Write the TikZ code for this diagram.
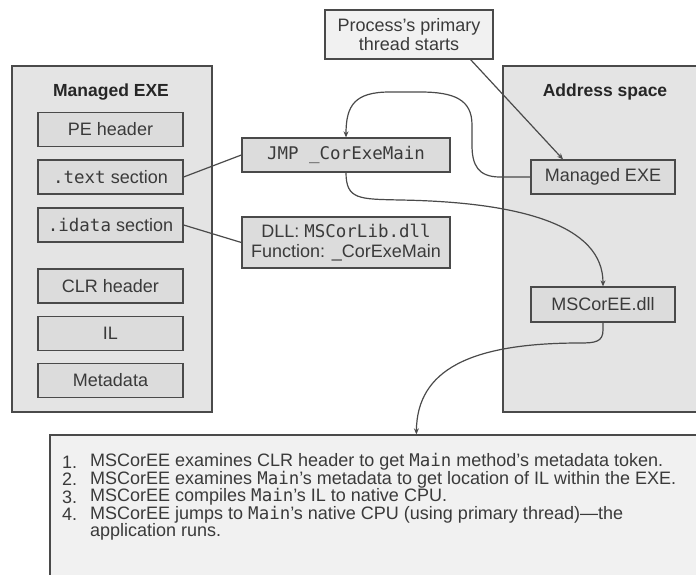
\documentclass[tikz,border=0pt]{standalone}
\usepackage{fontspec}
\setmainfont{Liberation Sans}
\newfontfamily\codefont{DejaVu Sans Mono}[Scale=0.97]
\usetikzlibrary{arrows.meta,shadows}
\definecolor{boxfill}{HTML}{E4E4E4}
\definecolor{innerfill}{HTML}{DCDCDC}
\definecolor{lightfill}{HTML}{F1F1F1}
\definecolor{ink}{HTML}{3A3A3A}
\definecolor{edge}{HTML}{4A4A4A}
\begin{document}
\begin{tikzpicture}[x=1pt,y=-1pt,
  every node/.style={font=\fontsize{18}{20}\selectfont, text=ink, inner sep=0pt},
  panel/.style={draw=edge, line width=1.3pt, fill=boxfill,
    drop shadow={shadow xshift=1.3pt, shadow yshift=-1.3pt, fill=gray!80, opacity=1}},
  part/.style={draw=edge, line width=1.3pt, fill=innerfill, minimum width=145pt, minimum height=34pt},
  lightbox/.style={draw=edge, line width=1.3pt, fill=lightfill,
    drop shadow={shadow xshift=1.2pt, shadow yshift=-1.2pt, fill=gray!80, opacity=1}},
  codebox/.style={draw=edge, line width=1.3pt, fill=innerfill, minimum width=208pt,
    drop shadow={shadow xshift=1.2pt, shadow yshift=-1.2pt, fill=gray!80, opacity=1}},
  title/.style={font=\fontsize{17.5}{20}\selectfont\bfseries, text=black!85},
  conn/.style={draw=edge, line width=1.2pt},
  arr/.style={conn, -{Stealth[length=6pt,width=5pt]}},
  stepline/.style={anchor=west}
]
\useasboundingbox (0,0) rectangle (696,575);
% left panel
\node[panel, minimum width=200pt, minimum height=346pt] (exe) at (112,239) {};
\node[title] (exetitle) at (111,92) {Managed EXE};
\node[part] (pe) at (110.5,129.5) {PE header};
\node[part] (text) at (110.5,177) {{\codefont .text} section};
\node[part] (idata) at (110.5,225) {{\codefont .idata} section};
\node[part] (clr) at (110.5,286) {CLR header};
\node[part] (il) at (110.5,333.5) {IL};
\node[part] (meta) at (110.5,380.5) {Metadata};
% right panel
\node[panel, minimum width=210pt, minimum height=346pt] (space) at (608,239) {};
\node[title] (spacetitle) at (605,92) {Address space};
\node[part, minimum width=144pt] (mexe) at (603,177) {Managed EXE};
\node[part, minimum width=144pt, minimum height=35pt] (msc) at (603,304.5) {MSCorEE.dll};
% middle
\node[lightbox, minimum width=168pt, minimum height=49pt, align=center, font=\fontsize{18}{18.5}\selectfont] (proc) at (409,34.5)
  {Process's primary\\thread starts};
\node[codebox, minimum height=34pt] (jmp) at (346,155) {{\codefont JMP \_CorExeMain}};
\node[codebox, minimum height=51pt, align=center] (dll) at (346,242.5)
  {DLL: {\codefont MSCorLib.dll}\\Function: \_CorExeMain};
% bottom
\node[draw=edge, line width=1.3pt, fill=lightfill, minimum width=660pt, minimum height=155pt] (steps) at (380,512.5) {};
\node[stepline] (n1) at (62,462) {1.};
\node[stepline] (t1) at (90,462) {MSCorEE examines CLR header to get {\codefont Main} method's metadata token.};
\node[stepline] (n2) at (62,479.5) {2.};
\node[stepline] (t2) at (90,479.5) {MSCorEE examines {\codefont Main}'s metadata to get location of IL within the EXE.};
\node[stepline] (n3) at (62,497) {3.};
\node[stepline] (t3) at (90,497) {MSCorEE compiles {\codefont Main}'s IL to native CPU.};
\node[stepline] (n4) at (62,514.5) {4.};
\node[stepline] (t4) at (90,514.5) {MSCorEE jumps to {\codefont Main}'s native CPU (using primary thread)---the};
\node[stepline] (t5) at (90,532) {application runs.};
% connectors
\draw[conn] (text.east) -- (jmp.west);
\draw[conn] (idata.east) -- (dll.west);
\draw[arr] ([xshift=-23pt]proc.south east) -- ([xshift=-40pt]mexe.north);
\draw[arr] (mexe.west) -- (500,177) .. controls (478,177) and (472,165) .. (472,145)
  -- (472,125) .. controls (472,100) and (455,92) .. (420,92) -- (390,92)
  .. controls (355,92) and (346,105) .. (jmp.north);
\draw[arr] (jmp.south) .. controls (346,200) and (360,199) .. (400,200)
  .. controls (520,202) and (603,225) .. (msc.north);
\draw[arr] (msc.south) -- (603,330) .. controls (603,342) and (595,343) .. (580,343)
  .. controls (470,343) and (417,370) .. ([xshift=367pt]steps.north west);
\end{tikzpicture}
\end{document}
